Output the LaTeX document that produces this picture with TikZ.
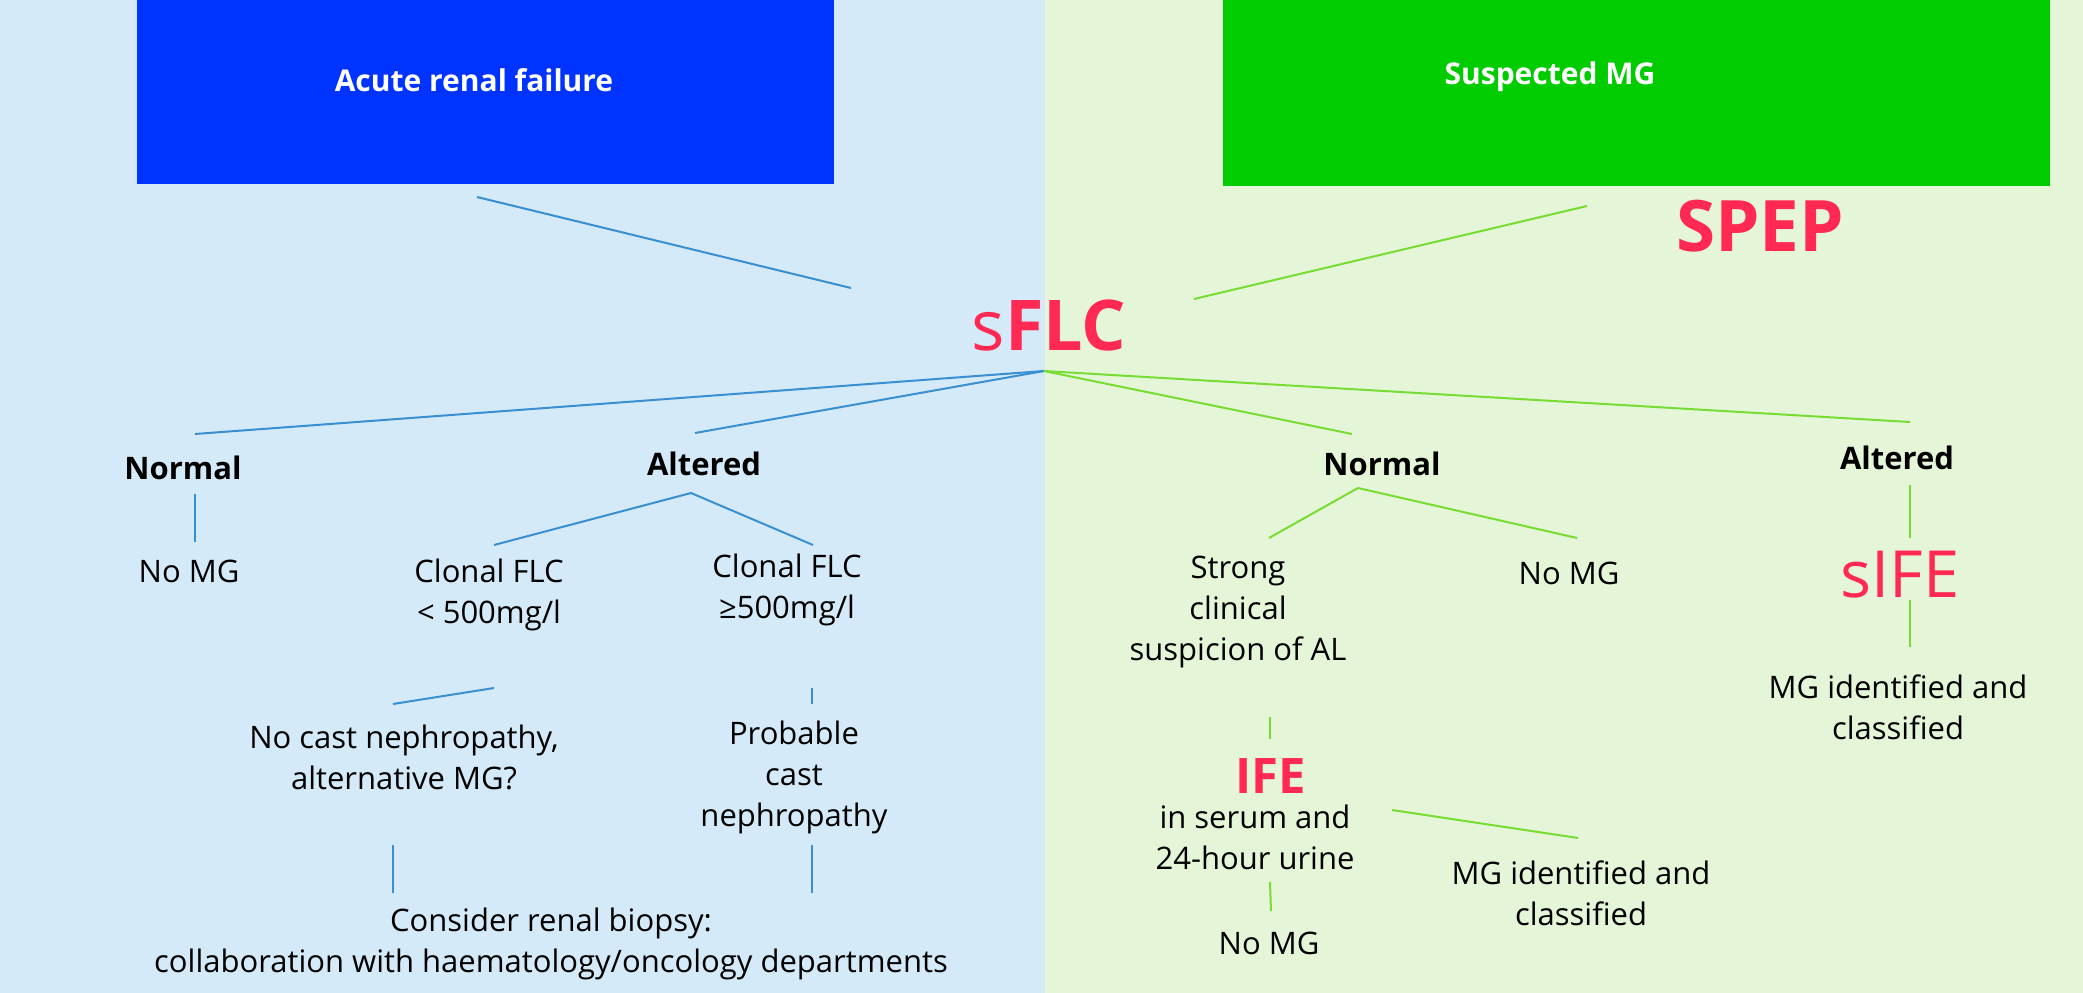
\documentclass[tikz,border=0pt]{standalone}
\usepackage{fontspec}
\setmainfont{Open Sans}
\definecolor{bgblue}{RGB}{212,234,248}
\definecolor{bggreen}{RGB}{229,245,216}
\definecolor{boxblue}{RGB}{0,51,255}
\definecolor{boxgreen}{RGB}{0,204,0}
\definecolor{testred}{RGB}{255,41,84}
\definecolor{lineblue}{RGB}{58,143,208}
\definecolor{linegreen}{RGB}{119,221,51}
\tikzset{
  txt/.style={align=center, inner sep=0pt, font=\fontsize{31}{41}\selectfont},
  res/.style={txt, font=\fontsize{31}{41}\selectfont\bfseries},
  boxtxt/.style={inner sep=0pt, text=white, font=\fontsize{30}{36}\selectfont\bfseries},
  test/.style={inner sep=0pt, text=testred},
  bl/.style={draw=lineblue, line width=2pt},
  gl/.style={draw=linegreen, line width=2pt},
}
\begin{document}
\begin{tikzpicture}[x=1pt,y=-1pt]
  % fonds
  \fill[bgblue] (0,0) rectangle (1045,993);
  \fill[bggreen] (1045,0) rectangle (2083,993);
  \useasboundingbox (0,0) rectangle (2083,993);

  % boites du haut
  \node[fill=boxblue, minimum width=697pt, minimum height=184pt] (arfbox) at (485.5,92) {};
  \node[boxtxt] (arf) at (474,80) {Acute renal failure};
  \node[fill=boxgreen, minimum width=827pt, minimum height=186pt] (smgbox) at (1636.5,93) {};
  \node[boxtxt] (smg) at (1550,77) {Suspected MG};

  % tests
  \node[test, font=\fontsize{71}{71}\selectfont\bfseries] (spep) at (1760,226) {SPEP};
  \node[test, font=\fontsize{70}{70}\selectfont] (sflc) at (1049,325) {s\textbf{FLC}};
  \node[test, font=\fontsize{65}{65}\selectfont] (sife) at (1900,575) {sIFE};
  \node[test, font=\fontsize{49}{49}\selectfont\bfseries] (ife) at (1271,776) {IFE};

  % resultats
  \node[res] (normL) at (183,468) {Normal};
  \node[res] (altL) at (704,464) {Altered};
  \node[res] (normR) at (1382,464) {Normal};
  \node[res] (altR) at (1897,458) {Altered};

  % textes
  \node[txt] (nomgL) at (189,571) {No MG};
  \node[txt] (clonlow) at (489,595) {Clonal FLC\\< 500mg/l};
  \node[txt] (clonhigh) at (787,590) {Clonal FLC\\≥500mg/l};
  \node[txt] (nocast) at (404,757) {No cast nephropathy,\\alternative MG?};
  \node[txt] (probable) at (794,777) {Probable\\cast\\nephropathy};
  \node[txt] (biopsy) at (551,944) {Consider renal biopsy:\\collaboration with haematology/oncology departments};
  \node[txt] (strong) at (1238,612) {Strong\\clinical\\suspicion of AL};
  \node[txt] (nomgR) at (1569,573) {No MG};
  \node[txt] (serum) at (1255,837) {in serum and\\24-hour urine};
  \node[txt] (mgidR) at (1581,893) {MG identified and\\classified};
  \node[txt] (nomgIFE) at (1269,943) {No MG};
  \node[txt] (mgidA) at (1898,707) {MG identified and\\classified};

  % points des connecteurs
  \coordinate (hub) at (1044,371);
  \coordinate (arf-e) at (477,197);   \coordinate (arf-f) at (851,288);
  \coordinate (smg-e) at (1587,206);  \coordinate (smg-f) at (1194,299);
  \coordinate (normL-n) at (195,434); \coordinate (altL-n) at (695,433);
  \coordinate (normR-n) at (1352,434);\coordinate (altR-n) at (1910,422);
  \coordinate (altL-s) at (691,493);  \coordinate (normR-s) at (1358,488);
  \coordinate (low-a) at (494,688);   \coordinate (low-b) at (393,704);
  \coordinate (serum-a) at (1392,810);\coordinate (serum-b) at (1578,838);

  % connecteurs bleus
  \draw[bl] (arf-e) -- (arf-f);
  \draw[bl] (hub) -- (normL-n);
  \draw[bl] (hub) -- (altL-n);
  \draw[bl] (195,494) -- (195,542);
  \draw[bl] (altL-s) -- (494,545);
  \draw[bl] (altL-s) -- (813,545);
  \draw[bl] (low-a) -- (low-b);
  \draw[bl] (812,688) -- (812,704);
  \draw[bl] (393,845) -- (393,893);
  \draw[bl] (812,845) -- (812,893);

  % connecteurs verts
  \draw[gl] (smg-e) -- (smg-f);
  \draw[gl] (hub) -- (normR-n);
  \draw[gl] (hub) -- (altR-n);
  \draw[gl] (normR-s) -- (1269,538);
  \draw[gl] (normR-s) -- (1577,538);
  \draw[gl] (1270,717) -- (1270,739);
  \draw[gl] (serum-a) -- (serum-b);
  \draw[gl] (1270,882) -- (1271,911);
  \draw[gl] (1910,485) -- (1910,538);
  \draw[gl] (1910,600) -- (1910,647);
\end{tikzpicture}
\end{document}
